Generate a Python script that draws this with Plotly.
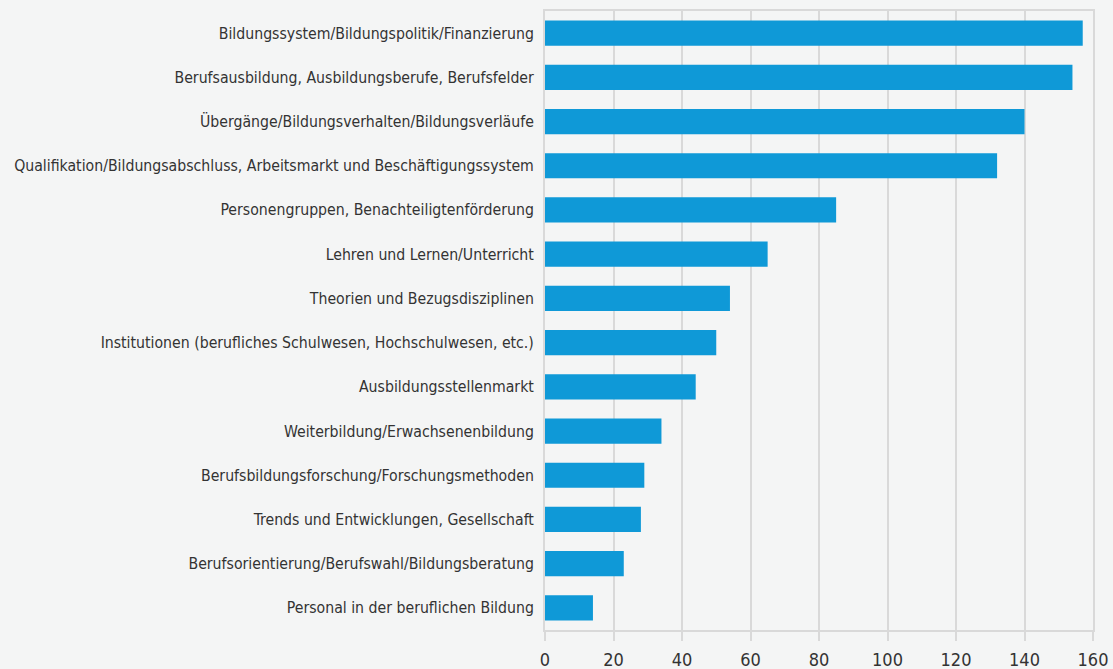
import plotly.graph_objects as go

categories = [
    "Bildungssystem/Bildungspolitik/Finanzierung",
    "Berufsausbildung, Ausbildungsberufe, Berufsfelder",
    "Übergänge/Bildungsverhalten/Bildungsverläufe",
    "Qualifikation/Bildungsabschluss, Arbeitsmarkt und Beschäftigungssystem",
    "Personengruppen, Benachteiligtenförderung",
    "Lehren und Lernen/Unterricht",
    "Theorien und Bezugsdisziplinen",
    "Institutionen (berufliches Schulwesen, Hochschulwesen, etc.)",
    "Ausbildungsstellenmarkt",
    "Weiterbildung/Erwachsenenbildung",
    "Berufsbildungsforschung/Forschungsmethoden",
    "Trends und Entwicklungen, Gesellschaft",
    "Berufsorientierung/Berufswahl/Bildungsberatung",
    "Personal in der beruflichen Bildung",
]
values = [157, 154, 140, 132, 85, 65, 54, 50, 44, 34, 29, 28, 23, 14]
x_ticks = [0, 20, 40, 60, 80, 100, 120, 140, 160]

FONT = "Liberation Sans Narrow, DejaVu Sans Condensed, Roboto, sans-serif"
BG = "#f4f5f5"
GRID = "#d9d9d9"

fig = go.Figure(go.Bar(
    x=values, y=categories, orientation="h",
    marker=dict(color="#0f99d7", line=dict(width=0)),
    hoverinfo="x+y",
))

fig.update_layout(
    width=1113, height=669,
    margin=dict(l=545, r=20, t=11, b=39, autoexpand=False),
    paper_bgcolor=BG, plot_bgcolor=BG,
    bargap=0.43,
    font=dict(family=FONT, size=17, color="#333333"),
    showlegend=False,
)
fig.update_xaxes(
    range=[0, 160], tickvals=x_ticks, ticktext=[str(v) for v in x_ticks],
    showgrid=True, gridcolor=GRID, gridwidth=1.5,
    showline=True, linecolor=GRID, linewidth=2, mirror=True,
    ticks="outside", ticklen=9, tickcolor=GRID, tickwidth=1.5,
    tickfont=dict(size=18), ticklabelstandoff=3,
    zeroline=False, fixedrange=True, automargin=False,
)
fig.update_yaxes(
    autorange="reversed", showgrid=False,
    showline=True, linecolor=GRID, linewidth=2, mirror=True,
    ticks="", ticklabelstandoff=6, tickfont=dict(size=15.7),
    fixedrange=True, automargin=False,
)

fig.write_html(
    "out.html",
    config={"displayModeBar": False},
    post_script="document.body.style.margin='0';document.body.style.overflow='hidden';document.body.style.background='" + BG + "';",
)
